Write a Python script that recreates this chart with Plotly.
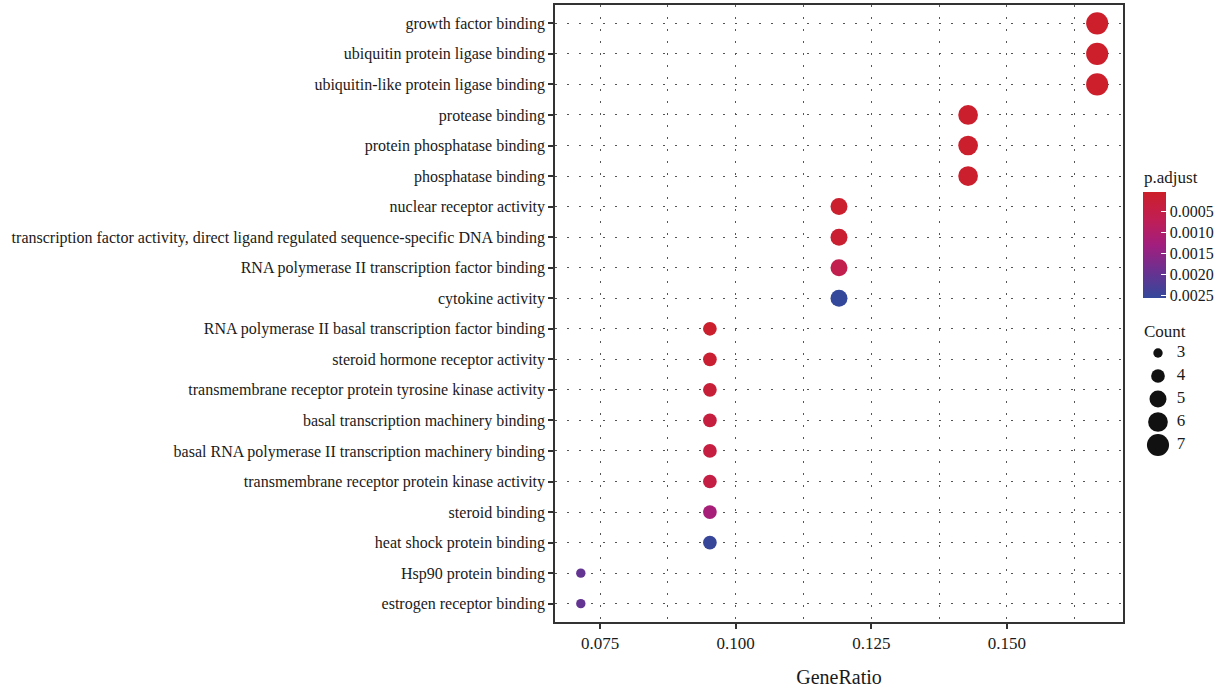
import numpy as np
import plotly.graph_objects as go

# GO molecular-function terms, top to bottom
terms = [
    "growth factor binding",
    "ubiquitin protein ligase binding",
    "ubiquitin-like protein ligase binding",
    "protease binding",
    "protein phosphatase binding",
    "phosphatase binding",
    "nuclear receptor activity",
    "transcription factor activity, direct ligand regulated sequence-specific DNA binding",
    "RNA polymerase II transcription factor binding",
    "cytokine activity",
    "RNA polymerase II basal transcription factor binding",
    "steroid hormone receptor activity",
    "transmembrane receptor protein tyrosine kinase activity",
    "basal transcription machinery binding",
    "basal RNA polymerase II transcription machinery binding",
    "transmembrane receptor protein kinase activity",
    "steroid binding",
    "heat shock protein binding",
    "Hsp90 protein binding",
    "estrogen receptor binding",
]
counts = [7, 7, 7, 6, 6, 6, 5, 5, 5, 5, 4, 4, 4, 4, 4, 4, 4, 4, 3, 3]
gene_total = 42
p_adjust = [0.00004, 0.00004, 0.00004, 0.00008, 0.00008, 0.00008, 0.00008,
            0.00012, 0.00060, 0.00255, 0.00008, 0.00015, 0.00025, 0.00035,
            0.00040, 0.00045, 0.00120, 0.00250, 0.00200, 0.00200]
legend_counts = [3, 4, 5, 6, 7]
cbar_ticks = [0.0005, 0.0010, 0.0015, 0.0020, 0.0025]

gene_ratio = [c / gene_total for c in counts]

FONT = "Liberation Serif"
TXT = "#1a1a1a"

# red (small p.adjust) -> blue (large p.adjust); stored on negated values so
# the colour bar reads small-to-large from top to bottom
scale = [[0.0, "#34489B"], [0.25, "#6A3190"], [0.5, "#A21E7E"],
         [0.75, "#C11E52"], [1.0, "#CC1F2A"]]
pmin, pmax = 0.00003, 0.00255


def dot_px(c):
    # area grows linearly with Count
    return np.sqrt(88 + 100 * (np.asarray(c, dtype=float) - 3))


W, H = 1229, 690
L, T, B = 555, 5, 68
plot_w = W - L
main_right = (1123 - L) / plot_w
ph = H - T - B

fig = go.Figure()
fig.add_trace(go.Scatter(
    x=gene_ratio, y=terms, mode="markers",
    marker=dict(
        size=dot_px(counts),
        color=[-p for p in p_adjust],
        cmin=-pmax, cmax=-pmin,
        colorscale=scale,
        line=dict(width=0),
        opacity=1,
        colorbar=dict(
            x=(1143 - L) / plot_w, xanchor="left", xpad=0,
            y=(H - B - 244.5) / ph, yanchor="middle", ypad=0,
            lenmode="pixels", len=106,
            thicknessmode="pixels", thickness=23,
            outlinewidth=0,
            tickvals=[-t for t in cbar_ticks],
            ticktext=[f"{t:.4f}" for t in cbar_ticks],
            ticks="inside", ticklen=5, tickcolor="white", tickwidth=1,
            tickfont=dict(family=FONT, size=16, color=TXT),
        ),
    ),
    showlegend=False, hoverinfo="skip",
))

# Count size key
fig.add_trace(go.Scatter(
    x=[0.271] * len(legend_counts), y=legend_counts, mode="markers",
    marker=dict(size=dot_px(legend_counts), color="#111111",
                opacity=1, line=dict(width=0)),
    xaxis="x2", yaxis="y2", showlegend=False, hoverinfo="skip",
))
fig.add_trace(go.Scatter(
    x=[1.08] * len(legend_counts), y=legend_counts, mode="text",
    text=[str(c) for c in legend_counts], textposition="middle right",
    textfont=dict(family=FONT, size=17, color=TXT),
    xaxis="x2", yaxis="y2", showlegend=False, hoverinfo="skip",
))

grid_dash = "1.5px,10.5px"
fig.update_layout(
    width=W, height=H,
    margin=dict(l=L, r=0, t=T, b=B),
    paper_bgcolor="white", plot_bgcolor="white",
    font=dict(family=FONT, color=TXT),
    xaxis=dict(
        domain=[0, main_right],
        range=[3 / gene_total - 0.00476, 7 / gene_total + 0.00476],
        tickvals=[0.075, 0.100, 0.125, 0.150],
        ticktext=["0.075", "0.100", "0.125", "0.150"],
        ticks="outside", ticklen=5, tickcolor="#333333", tickwidth=1.5,
        tickfont=dict(family=FONT, size=17, color=TXT),
        showline=True, linecolor="#333333", linewidth=1.5, mirror=True,
        showgrid=True, gridcolor="#555555", gridwidth=1, griddash=grid_dash,
        minor=dict(dtick=0.025, tick0=0.0875, showgrid=True,
                   gridcolor="#555555", gridwidth=1, griddash=grid_dash),
        zeroline=False,
        title=dict(text="GeneRatio", font=dict(family=FONT, size=20, color=TXT),
                   standoff=18),
    ),
    yaxis=dict(
        type="category",
        categoryorder="array", categoryarray=terms[::-1],
        range=[-0.6, len(terms) - 0.4],
        ticks="outside", ticklen=5, tickcolor="#333333", tickwidth=1.5,
        tickfont=dict(family=FONT, size=16, color=TXT),
        showline=True, linecolor="#333333", linewidth=1.5, mirror=True,
        showgrid=True, gridcolor="#555555", gridwidth=1, griddash=grid_dash,
        zeroline=False,
    ),
    xaxis2=dict(domain=[(1140 - L) / plot_w, (1210 - L) / plot_w],
                range=[-0.5, 2.5], visible=False, fixedrange=True),
    yaxis2=dict(domain=[(H - B - 460) / ph, (H - B - 340) / ph],
                range=[7.652, 2.435], visible=False, fixedrange=True,
                anchor="x2"),
    annotations=[
        dict(text="p.adjust", xref="paper", yref="paper",
             x=(1142 - L) / plot_w, y=(H - B - 178) / ph,
             xanchor="left", yanchor="middle", showarrow=False,
             font=dict(family=FONT, size=17, color=TXT)),
        dict(text="Count", xref="paper", yref="paper",
             x=(1142 - L) / plot_w, y=(H - B - 331) / ph,
             xanchor="left", yanchor="middle", showarrow=False,
             font=dict(family=FONT, size=17, color=TXT)),
    ],
)

fig.write_html("out.html")
